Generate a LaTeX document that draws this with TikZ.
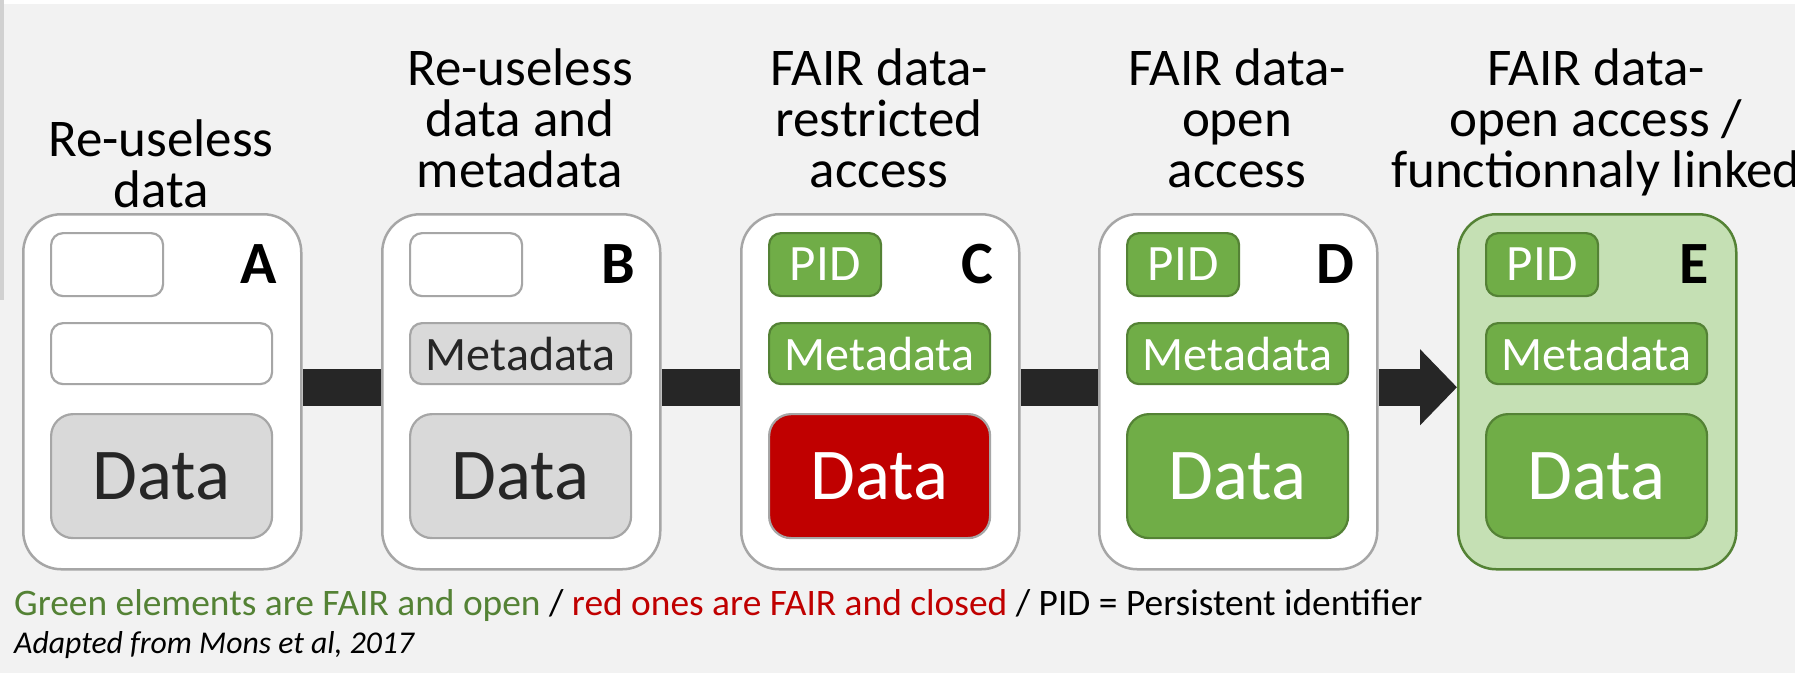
\documentclass[tikz,border=0pt]{standalone}
\usepackage{fontspec}
\setmainfont{Carlito}
\usetikzlibrary{arrows.meta}
\definecolor{bgc}{HTML}{F2F2F2}
\definecolor{edge}{HTML}{A6A6A6}
\definecolor{grayf}{HTML}{D9D9D9}
\definecolor{gfill}{HTML}{70AD47}
\definecolor{gline}{HTML}{548235}
\definecolor{lgreen}{HTML}{C5E0B4}
\definecolor{redf}{HTML}{C00000}
\definecolor{ink}{HTML}{262626}
\definecolor{txtgreen}{HTML}{548235}
\pgfdeclarelayer{bg}\pgfsetlayers{bg,main}
\begin{document}
\begin{tikzpicture}[x=1pt,y=-1pt,
 card/.style={draw=edge,line width=2.5pt,fill=white,rounded corners=38pt,minimum width=278pt,minimum height=355pt,inner sep=0pt,anchor=north west},
 cardE/.style={card,draw=gline,fill=lgreen},
 small/.style={rounded corners=12pt,minimum width=112pt,minimum height=63pt,inner sep=0pt,anchor=north west,line width=2.2pt,font=\fontsize{51}{51}\selectfont},
 wide/.style={rounded corners=12pt,minimum width=221pt,minimum height=61pt,inner sep=0pt,anchor=north west,line width=2.2pt,font=\fontsize{48}{48}\selectfont},
 big/.style={rounded corners=22pt,minimum width=221pt,minimum height=124pt,inner sep=0pt,anchor=north west,line width=2.2pt,font=\fontsize{73}{73}\selectfont},
 empty/.style={draw=edge,fill=white},
 grayel/.style={draw=edge,fill=grayf,text=ink},
 greenel/.style={draw=gline,fill=gfill,text=white},
 redel/.style={draw=edge,fill=redf,text=white},
 letter/.style={font=\fontsize{60}{60}\selectfont\bfseries,anchor=base,inner sep=0pt},
 title/.style={font=\fontsize{53}{51}\selectfont,align=center,anchor=base,inner sep=0pt},
 bar/.style={line width=37pt,draw=ink},
]
\useasboundingbox (0,0) rectangle (1795,673);
\begin{pgfonlayer}{bg}
\fill[bgc] (0,0) rectangle (1795,673);
\fill[white] (0,0) rectangle (1795,4);
\fill[black!18] (0,0) rectangle (4,300);
\end{pgfonlayer}

% Column A
\node[title] (titleA) at (161,207) {Re-useless\\data};
\node[card] (boxA) at (22,213) {};
\node[small,empty] (pidA) at (50,232) {};
\node[wide,empty] (metaA) at (50,322) {};
\node[big,grayel] (dataA) at (50,413) {Data};
\node[letter] (labA) at (259,283) {A};

% Column B
\node[title] (titleB) at (520,187) {Re-useless\\data and\\metadata};
\node[card] (boxB) at (381,213) {};
\node[small,empty] (pidB) at (409,232) {};
\node[wide,grayel] (metaB) at (409,322) {Metadata};
\node[big,grayel] (dataB) at (409,413) {Data};
\node[letter] (labB) at (618,283) {B};

% Column C
\node[title] (titleC) at (879,187) {FAIR data-\\restricted\\access};
\node[card] (boxC) at (740,213) {};
\node[small,greenel] (pidC) at (768,232) {PID};
\node[wide,greenel] (metaC) at (768,322) {Metadata};
\node[big,redel] (dataC) at (768,413) {Data};
\node[letter] (labC) at (977,283) {C};

% Column D
\node[title] (titleD) at (1237,187) {FAIR data-\\open\\access};
\node[card] (boxD) at (1098,213) {};
\node[small,greenel] (pidD) at (1126,232) {PID};
\node[wide,greenel] (metaD) at (1126,322) {Metadata};
\node[big,greenel] (dataD) at (1126,413) {Data};
\node[letter] (labD) at (1335,283) {D};

% Column E
\node[title] (titleE) at (1596,187) {FAIR data-\\open access /\\functionnaly linked};
\node[card,cardE] (boxE) at (1457,213) {};
\node[small,greenel] (pidE) at (1485,232) {PID};
\node[wide,greenel] (metaE) at (1485,322) {Metadata};
\node[big,greenel] (dataE) at (1485,413) {Data};
\node[letter] (labE) at (1694,283) {E};

% connectors
\begin{pgfonlayer}{bg}
\draw[bar] ([yshift=4.5pt]boxA.east) -- ([yshift=4.5pt]boxB.west);
\draw[bar] ([yshift=4.5pt]boxB.east) -- ([yshift=4.5pt]boxC.west);
\draw[bar] ([yshift=4.5pt]boxC.east) -- ([yshift=4.5pt]boxD.west);
\end{pgfonlayer}
\draw[bar,-{Triangle[length=37pt,width=74pt]}] ([yshift=4.5pt]boxD.east) -- ([yshift=4.5pt]boxE.west);

% legend
\node[anchor=base west,inner sep=0pt,font=\fontsize{37.4}{37.4}\selectfont] (legend) at (14,615)
 {\textcolor{txtgreen}{Green elements are FAIR and open} / \textcolor{redf}{red ones are FAIR and closed} / PID = Persistent identifier};
\node[anchor=base west,inner sep=0pt,font=\fontsize{31.7}{31.7}\selectfont\itshape] (source) at (14,653)
 {Adapted from Mons et al, 2017};
\end{tikzpicture}
\end{document}
